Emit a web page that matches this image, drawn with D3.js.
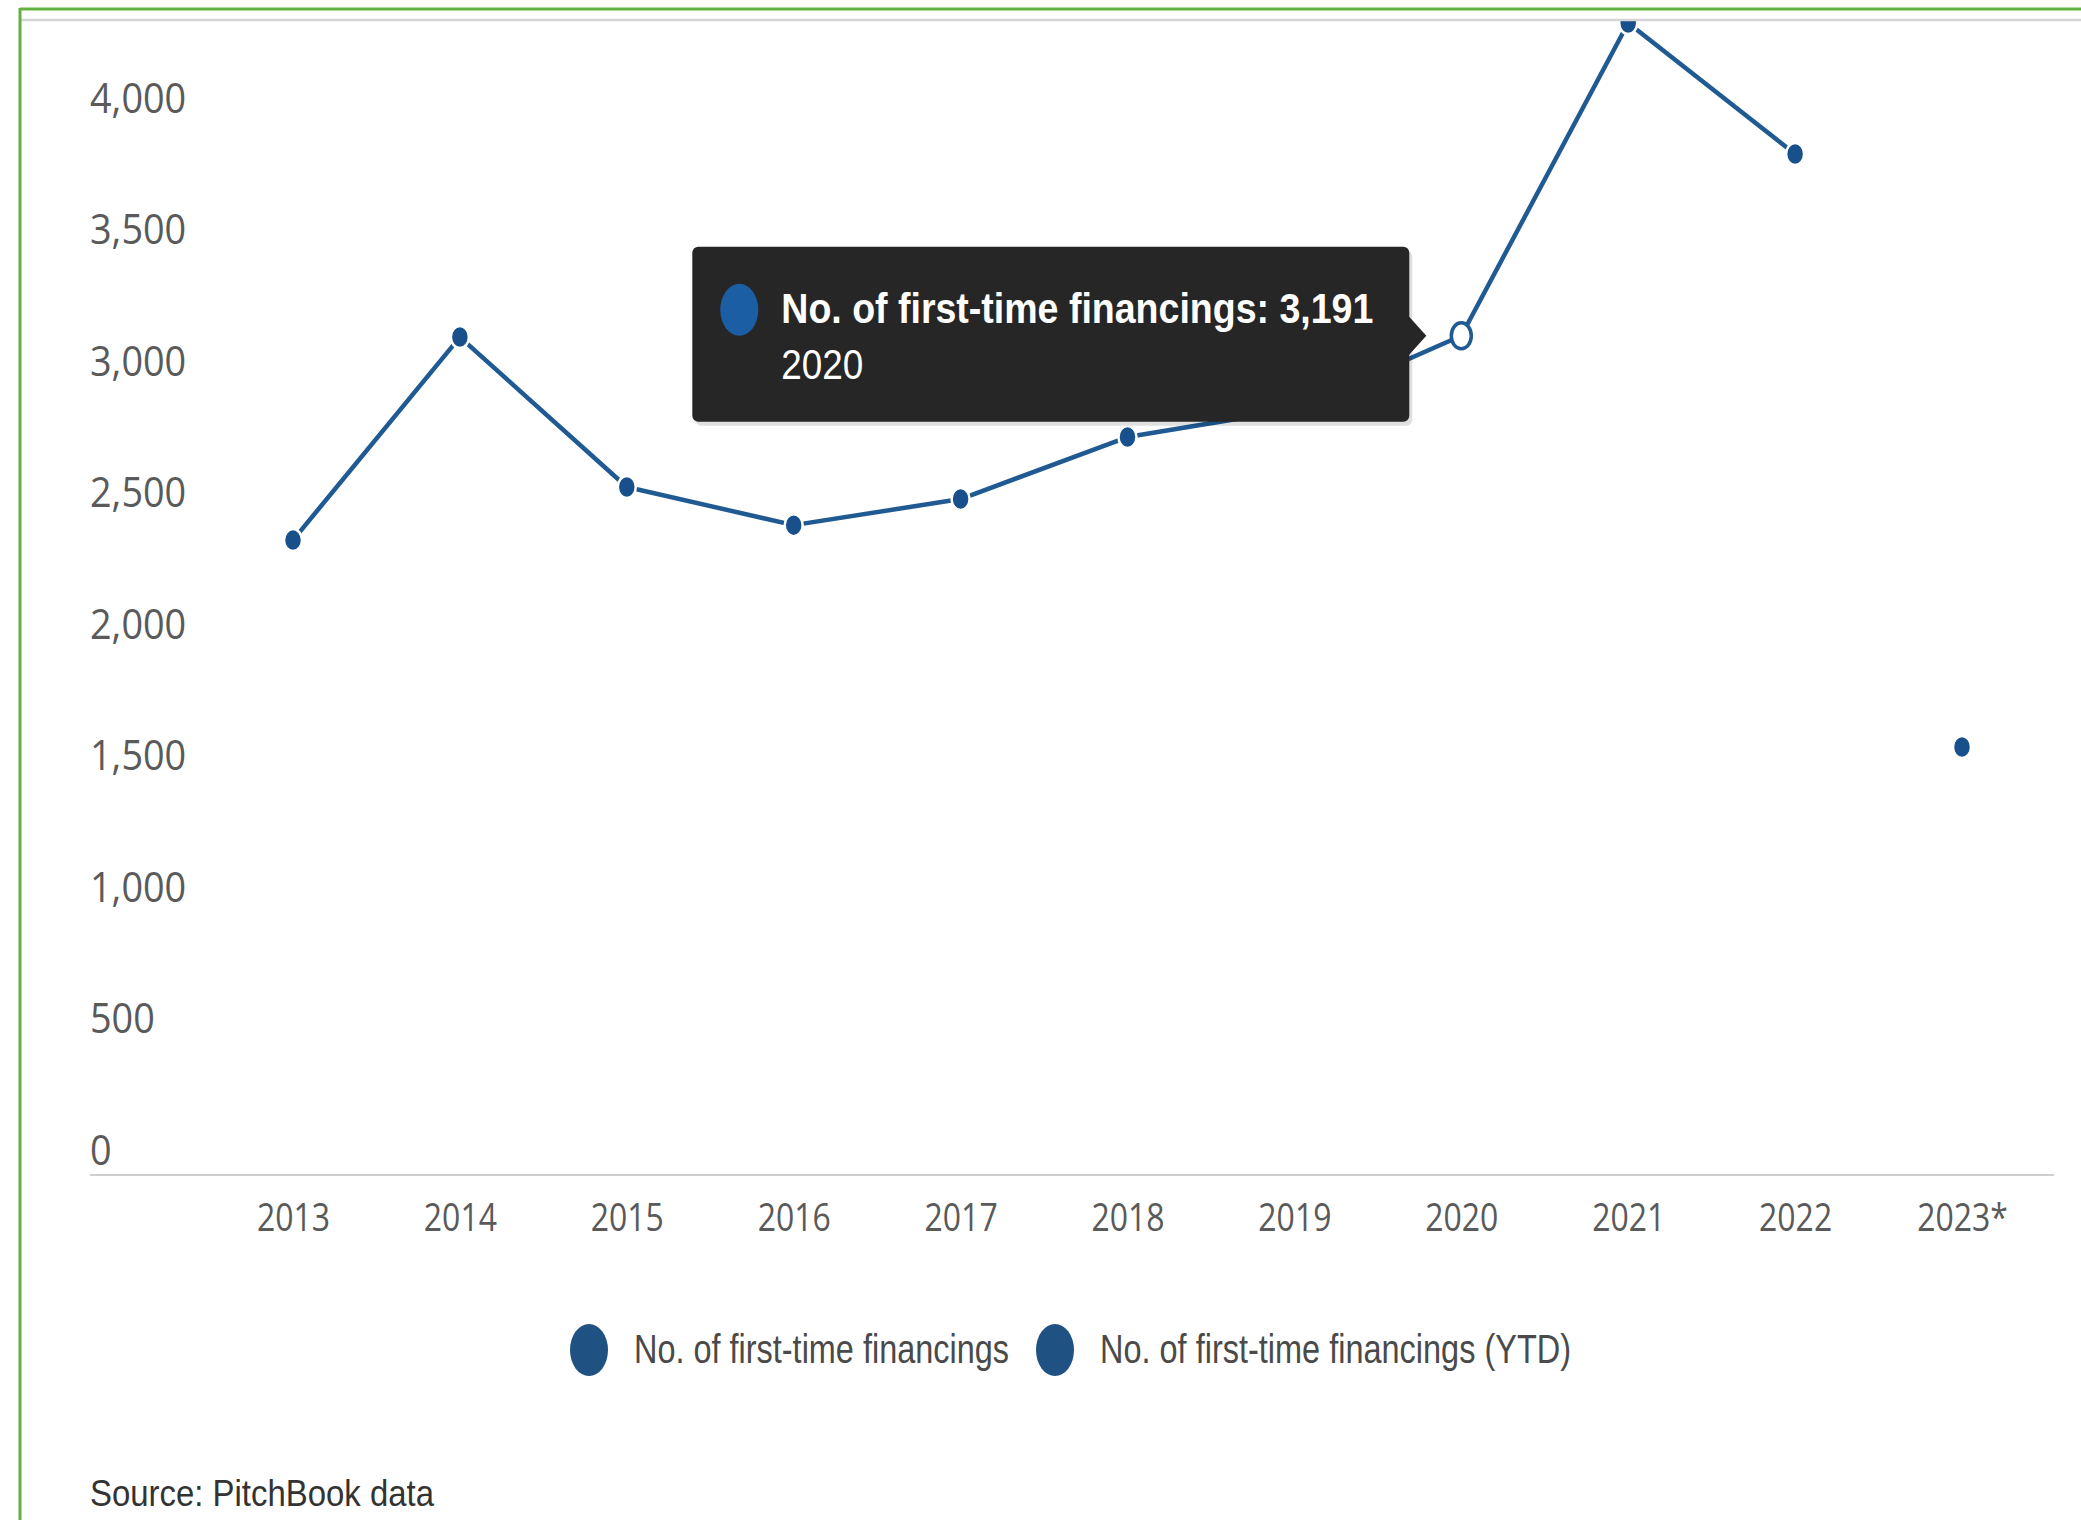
<!DOCTYPE html>
<html>
<head>
<meta charset="utf-8">
<script src="https://cdn.jsdelivr.net/npm/d3@7"></script>
<style>
  html, body { margin: 0; padding: 0; background: #ffffff; overflow: hidden; }
  svg { display: block; }
</style>
</head>
<body>
<svg id="chart" width="2081" height="1520"></svg>
<script>
// ---------- data ----------
const categories = ["2013","2014","2015","2016","2017","2018","2019","2020","2021","2022","2023*"];
const firstTimeFinancings = [2414, 3186, 2616, 2471, 2570, 2806, 2911, 3191, 4380, 3882, null];
const firstTimeFinancingsYTD = [null, null, null, null, null, null, null, null, null, null, 1627];
const seriesNames = ["No. of first-time financings", "No. of first-time financings (YTD)"];
const yTickValues = [0, 500, 1000, 1500, 2000, 2500, 3000, 3500, 4000];
const hoverCategory = "2020";
const sourceText = "Source: PitchBook data";

// ---------- setup ----------
const W = 2081, H = 1520;
const svg = d3.select("#chart");
const lineColor = "#1f5a92";
const markerColor = "#17508a";
const textColor = "#5a5a5a";

const x = d3.scalePoint().domain(categories).range([293, 1962]);
const y = d3.scaleLinear().domain([0, 4500]).range([1175, -8.5]);

function fitText(sel, width) {
  sel.attr("textLength", width).attr("lengthAdjust", "spacingAndGlyphs");
}

// background
svg.append("rect").attr("width", W).attr("height", H).attr("fill", "#ffffff");

// clip for plot area (top cut by frame line)
svg.append("defs").append("clipPath").attr("id", "plotClip")
  .append("rect").attr("x", 0).attr("y", 21).attr("width", W).attr("height", H);

// ---------- y axis ----------
const yAxisG = svg.append("g").attr("transform", "translate(90,0)")
  .call(d3.axisLeft(y).tickValues(yTickValues).tickSize(0).tickFormat(d3.format(",")));
yAxisG.select(".domain").remove();
yAxisG.selectAll("text")
  .attr("x", 0).attr("y", -11).attr("dy", null)
  .attr("text-anchor", "start")
  .attr("transform", "scale(0.9,1)")
  .style("font-family", "'Open Sans', sans-serif")
  .style("font-size", "42px")
  .attr("fill", textColor);

// ---------- x axis ----------
const xAxisG = svg.append("g").attr("transform", "translate(0,1175)")
  .call(d3.axisBottom(x).tickSize(0));
xAxisG.select(".domain").remove();
xAxisG.selectAll("text")
  .attr("y", 56).attr("dy", null)
  .attr("transform", "scale(0.82,1)")
  .style("font-family", "'Open Sans', sans-serif")
  .style("font-size", "39px")
  .attr("fill", textColor);

// axis baseline
svg.append("line")
  .attr("x1", 90).attr("x2", 2054).attr("y1", 1175).attr("y2", 1175)
  .attr("stroke", "#cfcfcf").attr("stroke-width", 2);

// ---------- series ----------
const plot = svg.append("g").attr("clip-path", "url(#plotClip)");

const pts1 = categories.map((c, i) => ({ c, v: firstTimeFinancings[i] }));
const pts2 = categories.map((c, i) => ({ c, v: firstTimeFinancingsYTD[i] }));

const line = d3.line()
  .defined(d => d.v != null)
  .x(d => x(d.c))
  .y(d => y(d.v));

plot.append("path")
  .datum(pts1)
  .attr("d", line)
  .attr("fill", "none")
  .attr("stroke", lineColor)
  .attr("stroke-width", 4.5)
  .attr("stroke-linejoin", "round");

plot.append("path")
  .datum(pts2)
  .attr("d", line)
  .attr("fill", "none")
  .attr("stroke", lineColor)
  .attr("stroke-width", 4.5);

const allPts = pts1.concat(pts2).filter(d => d.v != null);
plot.selectAll("ellipse.marker")
  .data(allPts.filter(d => d.c !== hoverCategory || d.v == null))
  .join("ellipse")
  .attr("class", "marker")
  .attr("cx", d => x(d.c))
  .attr("cy", d => y(d.v))
  .attr("rx", 9).attr("ry", 11)
  .attr("fill", markerColor)
  .attr("stroke", "#ffffff")
  .attr("stroke-width", 2.5);

// hovered marker
const hIdx = categories.indexOf(hoverCategory);
const hVal = firstTimeFinancings[hIdx];
const hx = x(hoverCategory), hy = y(hVal);
plot.append("ellipse")
  .attr("cx", hx).attr("cy", hy)
  .attr("rx", 10).attr("ry", 13)
  .attr("fill", "#ffffff")
  .attr("stroke", lineColor)
  .attr("stroke-width", 3.5);

// ---------- frame lines ----------
svg.append("line")
  .attr("x1", 20).attr("x2", W).attr("y1", 20).attr("y2", 20)
  .attr("stroke", "#d4d4d4").attr("stroke-width", 2.5);
svg.append("line")
  .attr("x1", 20).attr("x2", W).attr("y1", 9).attr("y2", 9)
  .attr("stroke", "#62b240").attr("stroke-width", 3);
svg.append("line")
  .attr("x1", 20).attr("x2", 20).attr("y1", 8).attr("y2", H)
  .attr("stroke", "#62b240").attr("stroke-width", 3);

// ---------- tooltip ----------
const tip = svg.append("g");
const bx = hx - 769, by = hy - 89, bw = 717, bh = 175;
tip.append("rect")
  .attr("x", bx + 3).attr("y", by + 4).attr("width", bw).attr("height", bh).attr("rx", 6)
  .attr("fill", "rgba(0,0,0,0.12)");
tip.append("rect")
  .attr("x", bx).attr("y", by).attr("width", bw).attr("height", bh).attr("rx", 6)
  .attr("fill", "#262626");
tip.append("path")
  .attr("d", `M${bx + bw - 1},${hy - 20} L${hx - 35},${hy} L${bx + bw - 1},${hy + 20} Z`)
  .attr("fill", "#262626");
tip.append("ellipse")
  .attr("cx", bx + 47).attr("cy", by + 63)
  .attr("rx", 19).attr("ry", 26)
  .attr("fill", "#1c5ea3");
tip.append("text")
  .attr("x", bx + 89).attr("y", by + 76)
  .style("font-family", "'Liberation Sans', Arial, sans-serif")
  .style("font-size", "42px").style("font-weight", "bold")
  .attr("fill", "#ffffff")
  .text(`${seriesNames[0]}: ${d3.format(",")(hVal)}`)
  .call(fitText, 592);
tip.append("text")
  .attr("x", bx + 89).attr("y", by + 132)
  .style("font-family", "'Liberation Sans', Arial, sans-serif")
  .style("font-size", "42px")
  .attr("fill", "#ffffff")
  .text(hoverCategory)
  .call(fitText, 82);

// ---------- legend ----------
const legendItems = [
  { name: seriesNames[0], cx: 589, tx: 634, tw: 375 },
  { name: seriesNames[1], cx: 1055, tx: 1100, tw: 471 }
];
const lg = svg.append("g");
legendItems.forEach(it => {
  lg.append("ellipse")
    .attr("cx", it.cx).attr("cy", 1350)
    .attr("rx", 19).attr("ry", 26)
    .attr("fill", "#1f5283");
  lg.append("text")
    .attr("x", it.tx).attr("y", 1363)
    .style("font-family", "'Liberation Sans', Arial, sans-serif")
    .style("font-size", "40px")
    .attr("fill", "#4a4a4a")
    .text(it.name)
    .call(fitText, it.tw);
});

// ---------- source ----------
svg.append("text")
  .attr("x", 90).attr("y", 1506)
  .style("font-family", "'Liberation Sans', Arial, sans-serif")
  .style("font-size", "36px")
  .attr("fill", "#333333")
  .text(sourceText)
  .call(fitText, 344);
</script>
</body>
</html>
